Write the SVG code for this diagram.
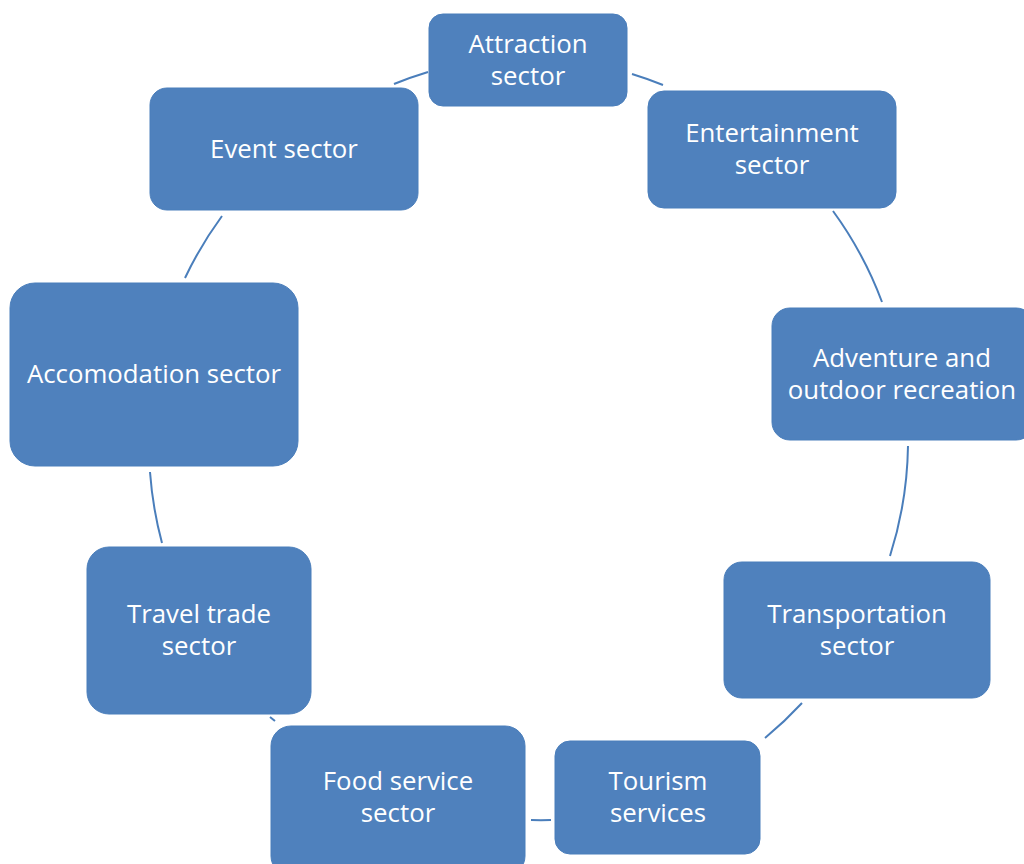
<svg xmlns="http://www.w3.org/2000/svg" width="1024" height="864" viewBox="0 0 1024 864">
<style>
.n{fill:#4F81BD;stroke:#4A7EBB;stroke-width:1}
.t{font-family:"Open Sans","Liberation Sans",sans-serif;font-size:25.8px;fill:#fff;text-anchor:middle}
.c{fill:none;stroke:#4A7EBB;stroke-width:2}
</style>
<rect width="1024" height="864" fill="#fff"/>
<g id="connectors">
<path class="c" d="M394,84 A380,380 0 0 1 428,72"/>
<path class="c" d="M632,74 A380,380 0 0 1 663,85"/>
<path class="c" d="M833,211 A380,380 0 0 1 882,302"/>
<path class="c" d="M908,446 A380,380 0 0 1 890,556"/>
<path class="c" d="M802,703 A380,380 0 0 1 765,738"/>
<path class="c" d="M551,820 A380,380 0 0 1 531,820"/>
<path class="c" d="M275,721 A380,380 0 0 1 270,717"/>
<path class="c" d="M162,543 A380,380 0 0 1 150,472"/>
<path class="c" d="M185,278 A380,380 0 0 1 222,216"/>
</g>
<g id="attraction"><rect class="n" x="429" y="14" width="198" height="92" rx="14"/><text class="t" x="528" y="53">Attraction</text><text class="t" x="528" y="85">sector</text></g>
<g id="entertainment"><rect class="n" x="648" y="91" width="248" height="117" rx="16"/><text class="t" x="772" y="142">Entertainment</text><text class="t" x="772" y="174">sector</text></g>
<g id="event"><rect class="n" x="150" y="88" width="268" height="122" rx="17"/><text class="t" x="284" y="158">Event sector</text></g>
<g id="accomodation"><rect class="n" x="10" y="283" width="288" height="183" rx="25"/><text class="t" x="154" y="383">Accomodation sector</text></g>
<g id="adventure"><rect class="n" x="772" y="308" width="262" height="132" rx="18"/><text class="t" x="902" y="367">Adventure and</text><text class="t" x="902" y="399">outdoor recreation</text></g>
<g id="transportation"><rect class="n" x="724" y="562" width="266" height="136" rx="18"/><text class="t" x="857" y="623">Transportation</text><text class="t" x="857" y="655">sector</text></g>
<g id="tourism"><rect class="n" x="555" y="741" width="205" height="113" rx="15"/><text class="t" x="658" y="790">Tourism</text><text class="t" x="658" y="822">services</text></g>
<g id="food"><rect class="n" x="271" y="726" width="254" height="150" rx="20"/><text class="t" x="398" y="790">Food service</text><text class="t" x="398" y="822">sector</text></g>
<g id="travel"><rect class="n" x="87" y="547" width="224" height="167" rx="22"/><text class="t" x="199" y="623">Travel trade</text><text class="t" x="199" y="655">sector</text></g>
</svg>
